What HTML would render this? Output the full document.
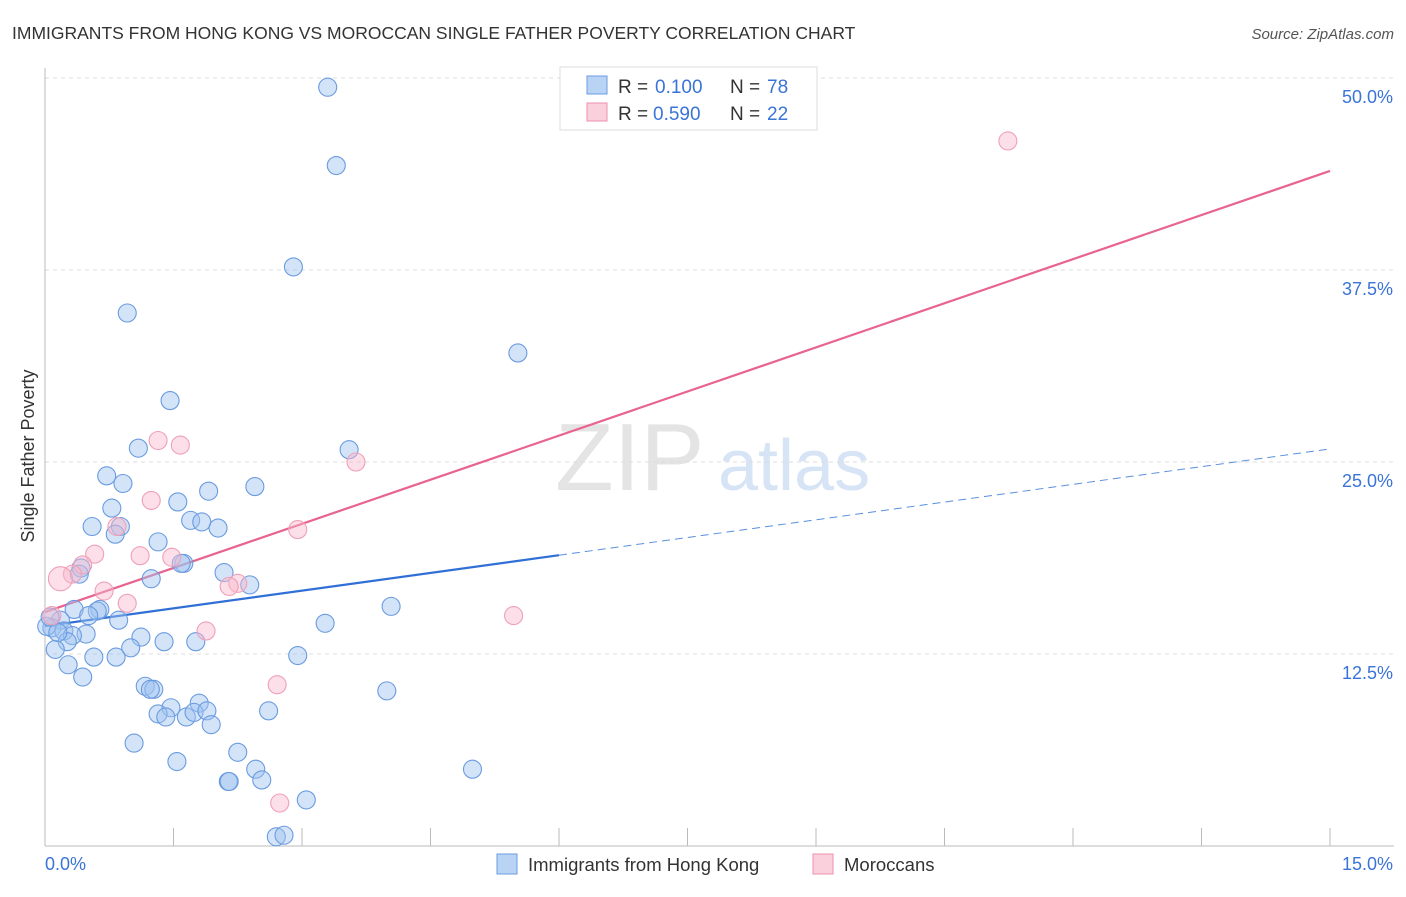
<!DOCTYPE html>
<html><head><meta charset="utf-8"><style>
body{margin:0;background:#fff;font-family:"Liberation Sans",sans-serif;}
svg text{font-family:"Liberation Sans",sans-serif;}
</style></head><body>
<svg id="chart" width="1406" height="892" viewBox="0 0 1406 892" xmlns="http://www.w3.org/2000/svg">
<text x="12" y="39" font-size="17.5" fill="#333">IMMIGRANTS FROM HONG KONG VS MOROCCAN SINGLE FATHER POVERTY CORRELATION CHART</text>
<text x="1394" y="39" font-size="15" fill="#555" text-anchor="end" font-style="italic">Source: ZipAtlas.com</text>
<text x="555" y="490" font-size="96" fill="#e4e4e4" font-family="Liberation Serif">ZIP</text>
<text x="718" y="490" font-size="72" fill="#d6e4f5">atlas</text>
<g id="grid"></g>
<g id="axes"></g>
<g id="lines"></g>
<g id="points"></g>
<text transform="translate(34,456) rotate(-90)" font-size="18" fill="#333" text-anchor="middle">Single Father Poverty</text>
<g>
<rect x="560" y="67" width="257" height="63" fill="#fff" stroke="#ddd"/>
<rect x="587" y="76" width="20" height="18" fill="#b9d3f5" stroke="#6a9be0"/>
<text x="618" y="93" font-size="19" fill="#333">R =</text>
<text x="655" y="93" font-size="19" fill="#3a74d8">0.100</text>
<text x="730" y="93" font-size="19" fill="#333">N =</text>
<text x="767" y="93" font-size="19" fill="#3a74d8">78</text>
<rect x="587" y="103" width="20" height="18" fill="#fbd0dd" stroke="#ec90ab"/>
<text x="618" y="120" font-size="19" fill="#333">R =</text>
<text x="653" y="120" font-size="19" fill="#3a74d8">0.590</text>
<text x="730" y="120" font-size="19" fill="#333">N =</text>
<text x="767" y="120" font-size="19" fill="#3a74d8">22</text>
</g>
<g>
<rect x="497" y="854" width="20" height="20" fill="#b9d3f5" stroke="#6a9be0"/>
<text x="528" y="871" font-size="18.5" fill="#333">Immigrants from Hong Kong</text>
<rect x="813" y="854" width="20" height="20" fill="#fbd0dd" stroke="#ec90ab"/>
<text x="844" y="871" font-size="18.5" fill="#333">Moroccans</text>
</g>
</svg>
<script>
const yTicks=[12.5,25,37.5,50];
const yTickLabels=["12.5%","25.0%","37.5%","50.0%"];
const xTicks=[0,1.5,3,4.5,6,7.5,9,10.5,12,13.5,15];
const hkX=[3.30,3.40,2.90,0.96,5.52,1.46,1.09,3.55,0.72,0.91,1.91,2.45,1.55,0.78,0.55,0.88,0.82,1.70,1.83,2.02,1.32,1.62,1.59,0.42,0.40,2.09,1.24,2.39,4.04,0.34,0.64,0.61,0.51,0.86,3.27,0.18,0.08,0.02,0.22,0.48,0.32,1.12,1.39,1.76,0.26,0.12,1.00,0.83,0.57,2.95,0.27,0.44,1.17,1.27,1.23,3.99,1.47,1.80,1.32,1.65,1.74,1.89,1.41,2.61,1.94,1.04,2.25,1.54,2.46,2.53,4.99,2.14,2.15,3.05,2.70,2.79,0.06,0.15];
const hkY=[49.4,44.3,37.7,34.7,32.1,29.0,25.9,25.8,24.1,23.6,23.1,23.4,22.4,22.0,20.8,20.8,20.3,21.2,21.1,20.7,19.8,18.4,18.4,18.1,17.7,17.8,17.4,17.0,15.6,15.4,15.4,15.3,15.0,14.7,14.5,14.7,14.2,14.3,14.0,13.8,13.7,13.6,13.3,13.3,13.3,12.8,12.9,12.3,12.3,12.4,11.8,11.0,10.4,10.2,10.2,10.1,9.0,9.3,8.6,8.4,8.7,8.8,8.4,8.8,7.9,6.7,6.1,5.5,5.0,4.3,5.0,4.2,4.2,3.0,0.6,0.7,14.9,13.9];
const maX=[11.24,1.32,1.58,3.63,1.24,0.84,2.95,0.58,1.11,1.48,0.44,0.32,0.18,2.25,2.15,0.69,0.96,5.47,0.08,1.88,2.71,2.74];
const maY=[45.9,26.4,26.1,25.0,22.5,20.8,20.6,19.0,18.9,18.8,18.3,17.7,17.4,17.1,16.9,16.6,15.8,15.0,15.0,14.0,10.5,2.8];
const maR=[9,9,9,9,9,9,9,9,9,9,9,9,12,9,9,9,9,9,9,9,9,9];
const hkLine=[14.32,25.85];
const maLine=[15.23,43.95];
const hkSolidEnd=6.0;
const NS="http://www.w3.org/2000/svg";
const sx=v=>45+v*(1330-45)/15;
const sy=v=>846-v*15.36;
function mk(tag,attrs,parent){const e=document.createElementNS(NS,tag);for(const k in attrs)e.setAttribute(k,attrs[k]);document.getElementById(parent).appendChild(e);return e;}
yTicks.forEach((t,i)=>{
 const l=mk('line',{x1:45,x2:1394,y1:sy(t),y2:sy(t),stroke:'#ddd','stroke-dasharray':'4,4'},'grid');
 
 
 const tx=mk('text',{x:1393,y:sy(t)+25,'font-size':18,fill:'#3a74d8','text-anchor':'end'},'axes');
 tx.textContent=yTickLabels[i];
 
 
});
const ax=mk('line',{x1:45,x2:45,y1:68,y2:846,stroke:'#bbb'},'axes');


const bx=mk('line',{x1:45,x2:1394,y1:846,y2:846,stroke:'#bbb'},'axes');


xTicks.forEach(t=>{
 const l=mk('line',{x1:sx(t),x2:sx(t),y1:828,y2:846,stroke:'#bbb'},'axes');
 
 
});
const x0=mk('text',{x:45,y:870,'font-size':18,fill:'#3a74d8'},'axes');x0.textContent='0.0%';


const x1=mk('text',{x:1393,y:870,'font-size':18,fill:'#3a74d8','text-anchor':'end'},'axes');x1.textContent='15.0%';


hkX.forEach((x,i)=>{
 const c=mk('circle',{cx:sx(x),cy:sy(hkY[i]),r:9,fill:'rgba(160,196,240,0.45)',stroke:'#6a9be0','stroke-width':1.1},'points');
 
 
});
maX.forEach((x,i)=>{
 const c=mk('circle',{cx:sx(x),cy:sy(maY[i]),r:maR[i],fill:'rgba(248,185,205,0.45)',stroke:'#efa0b8','stroke-width':1.1},'points');
 
 
});
const hy=x=>hkLine[0]+(hkLine[1]-hkLine[0])*x/15;
const pl=mk('line',{x1:sx(0),y1:sy(maLine[0]),x2:sx(15),y2:sy(maLine[1]),stroke:'#e8648f','stroke-width':2.2},'lines');


const bl=mk('line',{x1:sx(0),y1:sy(hy(0)),x2:sx(hkSolidEnd),y2:sy(hy(hkSolidEnd)),stroke:'#2f6fd6','stroke-width':2.2},'lines');


const bd=mk('line',{x1:sx(hkSolidEnd),y1:sy(hy(hkSolidEnd)),x2:sx(15),y2:sy(hy(15)),stroke:'#5b8fde','stroke-width':1,'stroke-dasharray':'8,5'},'lines');


</script>
</body></html>
